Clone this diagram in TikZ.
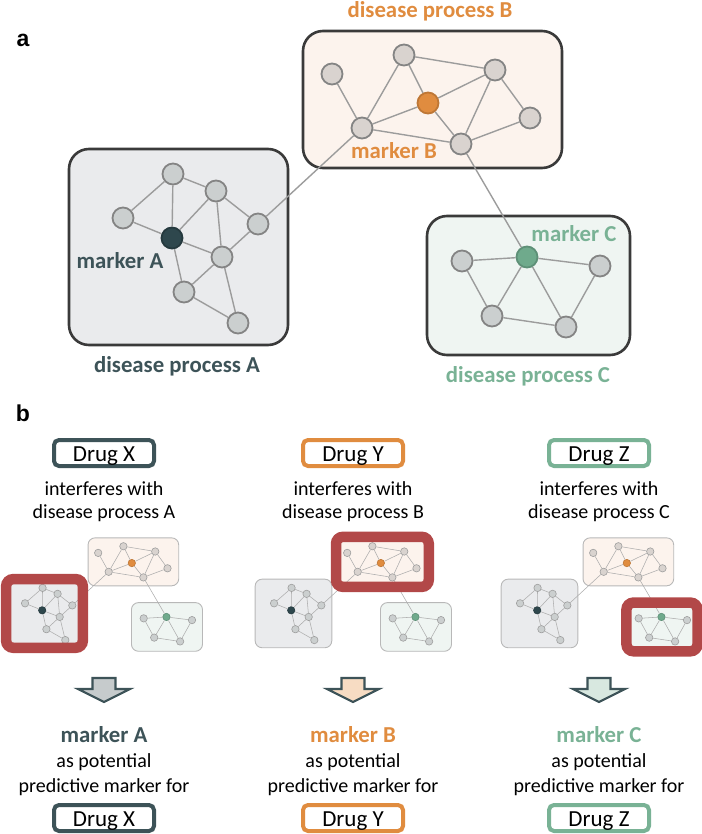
\documentclass[tikz,border=0pt]{standalone}
\usepackage{fontspec}
\setmainfont{Carlito}
\newfontfamily\arialfont{Liberation Sans}
\definecolor{cA}{HTML}{3D5358}
\definecolor{cB}{HTML}{E08C3F}
\definecolor{cC}{HTML}{79B295}
\definecolor{fillA}{HTML}{EAEBED}
\definecolor{fillB}{HTML}{FCF3ED}
\definecolor{fillC}{HTML}{EFF5F2}
\definecolor{nodeG}{HTML}{CBCFCF}
\definecolor{nodeW}{HTML}{D9D3CF}
\definecolor{nodeDark}{HTML}{2E474D}
\definecolor{nodeOr}{HTML}{E08C3F}
\definecolor{nodeGr}{HTML}{6FAA8C}
\definecolor{redF}{HTML}{B24848}
\definecolor{arrA}{HTML}{C6CBCC}
\definecolor{arrB}{HTML}{F7DCC3}
\definecolor{arrC}{HTML}{D8E8E0}
\definecolor{boxline}{HTML}{3A3A3A}
\definecolor{edgecol}{HTML}{9C9C9C}
\definecolor{nodeline}{HTML}{848484}

\newcommand{\netdraw}[1]{%
  \draw[netbox, fill=fillA] (69,149) rectangle (288,345);
  \draw[netbox, fill=fillB] (303,31) rectangle (562,168);
  \draw[netbox, fill=fillC] (427,216) rectangle (630,355);
  % A nodes
  \node[gnode] (#1a1) at (173,174) {};
  \node[gnode] (#1a2) at (216,191) {};
  \node[gnode] (#1a3) at (123,218) {};
  \node[gnode] (#1a4) at (258,224) {};
  \node[gnode, fill=nodeDark, draw=nodeDark!80!black] (#1am) at (172,238) {};
  \node[gnode] (#1a5) at (222,257) {};
  \node[gnode] (#1a6) at (184,292) {};
  \node[gnode] (#1a7) at (238,323) {};
  % B nodes
  \node[gnode, fill=nodeW] (#1b1) at (332,74) {};
  \node[gnode, fill=nodeW] (#1b2) at (404,55) {};
  \node[gnode, fill=nodeW] (#1b3) at (495,70) {};
  \node[gnode, fill=nodeOr, draw=nodeOr!85!black] (#1bm) at (428,103) {};
  \node[gnode, fill=nodeW] (#1b4) at (362,128) {};
  \node[gnode, fill=nodeW] (#1b5) at (530,118) {};
  \node[gnode, fill=nodeW] (#1b6) at (461,144) {};
  % C nodes
  \node[gnode] (#1c1) at (462,261) {};
  \node[gnode, fill=nodeGr, draw=nodeGr!85!black] (#1cm) at (527,257) {};
  \node[gnode] (#1c2) at (600,266) {};
  \node[gnode] (#1c3) at (492,316) {};
  \node[gnode] (#1c4) at (566,327) {};
  % A edges
  \draw[netedge] (#1a3) -- (#1a1);
  \draw[netedge] (#1a3) -- (#1am);
  \draw[netedge] (#1a1) -- (#1am);
  \draw[netedge] (#1a1) -- (#1a2);
  \draw[netedge] (#1am) -- (#1a2);
  \draw[netedge] (#1a2) -- (#1a5);
  \draw[netedge] (#1a2) -- (#1a4);
  \draw[netedge] (#1a4) -- (#1a5);
  \draw[netedge] (#1am) -- (#1a5);
  \draw[netedge] (#1am) -- (#1a6);
  \draw[netedge] (#1a6) -- (#1a5);
  \draw[netedge] (#1a6) -- (#1a7);
  \draw[netedge] (#1a5) -- (#1a7);
  % B edges
  \draw[netedge] (#1b1) -- (#1b4);
  \draw[netedge] (#1b4) -- (#1b2);
  \draw[netedge] (#1b2) -- (#1bm);
  \draw[netedge] (#1b2) -- (#1b3);
  \draw[netedge] (#1bm) -- (#1b3);
  \draw[netedge] (#1b4) -- (#1bm);
  \draw[netedge] (#1b4) -- (#1b6);
  \draw[netedge] (#1bm) -- (#1b6);
  \draw[netedge] (#1b6) -- (#1b3);
  \draw[netedge] (#1b3) -- (#1b5);
  \draw[netedge] (#1b6) -- (#1b5);
  % C edges
  \draw[netedge] (#1c1) -- (#1cm);
  \draw[netedge] (#1cm) -- (#1c2);
  \draw[netedge] (#1c1) -- (#1c3);
  \draw[netedge] (#1c3) -- (#1cm);
  \draw[netedge] (#1cm) -- (#1c4);
  \draw[netedge] (#1c3) -- (#1c4);
  \draw[netedge] (#1c4) -- (#1c2);
  % links between processes
  \draw[netedge] (#1a4) -- (#1b4);
  \draw[netedge] (#1b6) -- (#1cm);
}

\newcommand{\bcol}[6]{%
  \node[drugbox, draw=#5] (drugtop#1) at (#2,453) {Drug #3};
  \node[txt] (intf#1) at (#2,495) {interferes with};
  \node[txt] (proc#1) at (#2,518) {disease process #4};
  \draw[blockarrow, fill=#6] (#2-11.5,678) -- (#2+11.5,678) -- (#2+11.5,689) -- (#2+26,689)
     -- (#2,702) -- (#2-26,689) -- (#2-11.5,689) -- cycle;
  \node[lab, text=#5] (mk#1) at (#2,742) {marker #4};
  \node[txt] (pot#1) at (#2,767) {as potential};
  \node[txt] (pred#1) at (#2,792) {predictive marker for};
  \node[drugbox, draw=#5] (drugbot#1) at (#2,818) {Drug #3};
}

\begin{document}
\begin{tikzpicture}[x=1pt, y=-1pt,
  netbox/.style={draw=boxline, line width=2.6pt, rounded corners=20pt},
  gnode/.style={circle, draw=nodeline, line width=1.8pt, fill=nodeG, minimum size=21pt, inner sep=0pt},
  netedge/.style={draw=edgecol, line width=1.4pt},
  mini/.style={
    netbox/.style={draw=black!28, line width=0.9pt, rounded corners=7pt},
    gnode/.style={circle, draw=black!38, line width=0.6pt, fill=nodeG, minimum size=7.4pt, inner sep=0pt},
    netedge/.style={draw=black!32, line width=0.55pt}},
  redframe/.style={draw=redF, line width=10.5pt, rounded corners=7pt},
  lab/.style={font=\fontsize{22.8}{27}\selectfont\bfseries, anchor=base, inner sep=0pt},
  txt/.style={font=\fontsize{20}{24}\selectfont, anchor=base, inner sep=0pt},
  panel/.style={font=\arialfont\bfseries\fontsize{23}{27}\selectfont, anchor=base, inner sep=0pt},
  drugbox/.style={line width=4pt, rounded corners=5pt, fill=white, minimum width=100pt,
    minimum height=26pt, inner sep=0pt, text height=16pt, text depth=0pt,
    font=\fontsize{23}{27}\selectfont},
  blockarrow/.style={draw=cA, line width=2.2pt, line join=miter}]
\useasboundingbox (0,0) rectangle (701,834);

% panel a
\node[panel] (pa) at (23,47) {a};
\netdraw{M}
\node[lab, text=cB] (titleB) at (430,18) {disease process B};
\node[lab, text=cB] (markB) at (394,159) {marker B};
\node[lab, text=cA] (markA) at (120,268) {marker A};
\node[lab, text=cA] (titleA) at (177,372) {disease process A};
\node[lab, text=cC] (markC) at (574,241) {marker C};
\node[lab, text=cC] (titleC) at (528,382) {disease process C};

% panel b
\node[panel] (pb) at (23,421) {b};
\begin{scope}[shift={(-18,527)}, scale=0.35, mini]
  \netdraw{X}
  \draw[redframe] (69,149) rectangle (288,345);
\end{scope}
\begin{scope}[shift={(231,527)}, scale=0.35, mini]
  \netdraw{Y}
  \draw[redframe] (300,28) rectangle (565,171);
\end{scope}
\begin{scope}[shift={(477,527)}, scale=0.35, mini]
  \netdraw{Z}
  \draw[redframe] (427,216) rectangle (630,355);
\end{scope}

\bcol{X}{104}{X}{A}{cA}{arrA}
\bcol{Y}{353}{Y}{B}{cB}{arrB}
\bcol{Z}{599}{Z}{C}{cC}{arrC}
\end{tikzpicture}
\end{document}
